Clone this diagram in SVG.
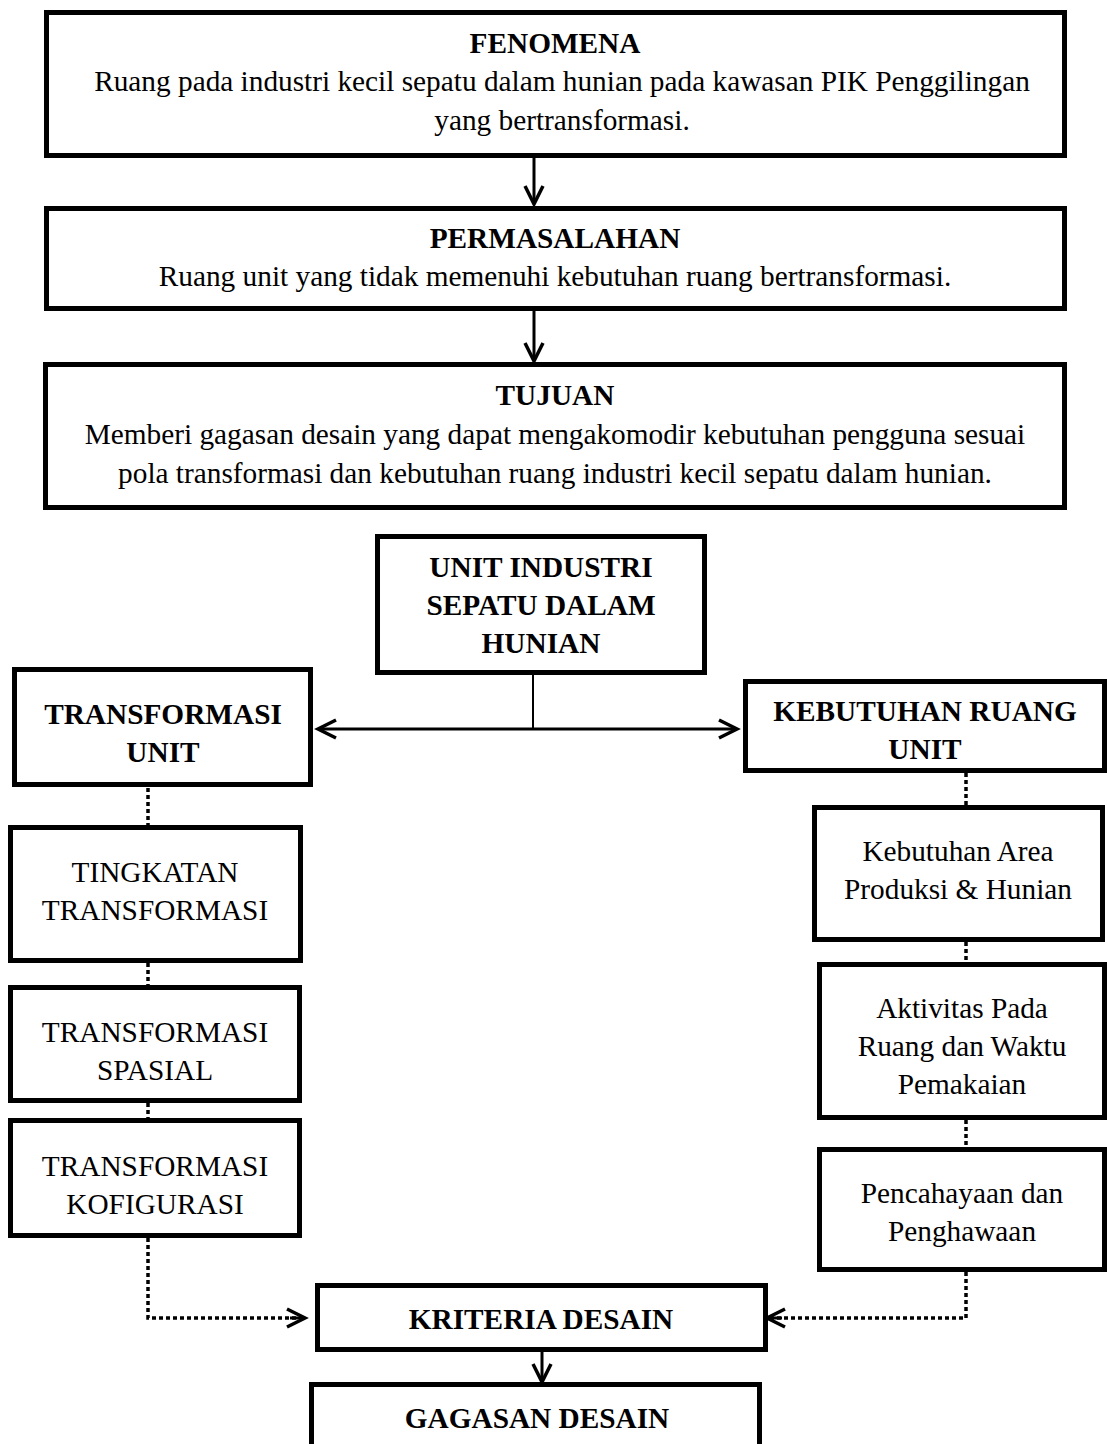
<svg xmlns="http://www.w3.org/2000/svg" width="1107" height="1444" viewBox="0 0 1107 1444">
<style>
.box{fill:#fff;stroke:#000;stroke-width:5}
.t{font-family:"Liberation Serif","Times New Roman",serif;font-size:29.3px;fill:#000;text-anchor:middle}
.b{font-weight:bold}
.ln{fill:none;stroke:#000;stroke-width:3}
.dot{fill:none;stroke:#000;stroke-width:3.5;stroke-dasharray:4 3}
</style>
<defs>
<marker id="ah" markerUnits="userSpaceOnUse" markerWidth="24" markerHeight="24" refX="18" refY="9" orient="auto-start-reverse" overflow="visible">
<path d="M0,0 L18,9 L0,18" fill="none" stroke="#000" stroke-width="3.5"/>
</marker>
</defs>
<rect width="1107" height="1444" fill="#fff"/>
<g id="connectors">
<line class="ln" x1="534" y1="158" x2="534" y2="204" marker-end="url(#ah)"/>
<line class="ln" x1="534" y1="311" x2="534" y2="361" marker-end="url(#ah)"/>
<line x1="533" y1="675" x2="533" y2="729" stroke="#000" stroke-width="2"/>
<line class="ln" x1="318" y1="729" x2="737" y2="729" marker-start="url(#ah)" marker-end="url(#ah)"/>
<line class="dot" x1="148" y1="788" x2="148" y2="825"/>
<line class="dot" x1="148" y1="963" x2="148" y2="985"/>
<line class="dot" x1="148" y1="1103" x2="148" y2="1118"/>
<path class="dot" d="M148,1238 V1318 H303"/>
<line class="ln" x1="290" y1="1318" x2="305" y2="1318" marker-end="url(#ah)"/>
<line class="dot" x1="966" y1="773" x2="966" y2="805"/>
<line class="dot" x1="966" y1="942" x2="966" y2="962"/>
<line class="dot" x1="966" y1="1120" x2="966" y2="1147"/>
<path class="dot" d="M966,1272 V1318 H770"/>
<line class="ln" x1="782" y1="1318" x2="767" y2="1318" marker-end="url(#ah)"/>
<line class="ln" x1="542" y1="1352" x2="542" y2="1382" marker-end="url(#ah)"/>
</g>
<g id="fenomena">
<rect class="box" x="46.5" y="12.5" width="1018" height="143"/>
<text class="t b" x="555" y="53">FENOMENA</text>
<text class="t" x="562" y="91">Ruang pada industri kecil sepatu dalam hunian pada kawasan PIK Penggilingan</text>
<text class="t" x="562" y="130">yang bertransformasi.</text>
</g>
<g id="permasalahan">
<rect class="box" x="46.5" y="208.5" width="1018" height="100"/>
<text class="t b" x="555" y="248">PERMASALAHAN</text>
<text class="t" x="555" y="286">Ruang unit yang tidak memenuhi kebutuhan ruang bertransformasi.</text>
</g>
<g id="tujuan">
<rect class="box" x="45.5" y="364.5" width="1019" height="143"/>
<text class="t b" x="555" y="405">TUJUAN</text>
<text class="t" x="555" y="444">Memberi gagasan desain yang dapat mengakomodir kebutuhan pengguna sesuai</text>
<text class="t" x="555" y="483">pola transformasi dan kebutuhan ruang industri kecil sepatu dalam hunian.</text>
</g>
<g id="unit-industri">
<rect class="box" x="377.5" y="536.5" width="327" height="136"/>
<text class="t b" x="541" y="577">UNIT INDUSTRI</text>
<text class="t b" x="541" y="615">SEPATU DALAM</text>
<text class="t b" x="541" y="653">HUNIAN</text>
</g>
<g id="transformasi-unit">
<rect class="box" x="14.5" y="669.5" width="296" height="115"/>
<text class="t b" x="163" y="724">TRANSFORMASI</text>
<text class="t b" x="163" y="762">UNIT</text>
</g>
<g id="kebutuhan-ruang-unit">
<rect class="box" x="745.5" y="681.5" width="359" height="89"/>
<text class="t b" x="925" y="721">KEBUTUHAN RUANG</text>
<text class="t b" x="925" y="759">UNIT</text>
</g>
<g id="tingkatan">
<rect class="box" x="10.5" y="827.5" width="290" height="133"/>
<text class="t" x="155" y="882">TINGKATAN</text>
<text class="t" x="155" y="920">TRANSFORMASI</text>
</g>
<g id="spasial">
<rect class="box" x="10.5" y="987.5" width="289" height="113"/>
<text class="t" x="155" y="1042">TRANSFORMASI</text>
<text class="t" x="155" y="1080">SPASIAL</text>
</g>
<g id="kofigurasi">
<rect class="box" x="10.5" y="1120.5" width="289" height="115"/>
<text class="t" x="155" y="1176">TRANSFORMASI</text>
<text class="t" x="155" y="1214">KOFIGURASI</text>
</g>
<g id="kebutuhan-area">
<rect class="box" x="814.5" y="807.5" width="288" height="132"/>
<text class="t" x="958" y="861">Kebutuhan Area</text>
<text class="t" x="958" y="899">Produksi &amp; Hunian</text>
</g>
<g id="aktivitas">
<rect class="box" x="819.5" y="964.5" width="285" height="153"/>
<text class="t" x="962" y="1018">Aktivitas Pada</text>
<text class="t" x="962" y="1056">Ruang dan Waktu</text>
<text class="t" x="962" y="1094">Pemakaian</text>
</g>
<g id="pencahayaan">
<rect class="box" x="819.5" y="1149.5" width="285" height="120"/>
<text class="t" x="962" y="1203">Pencahayaan dan</text>
<text class="t" x="962" y="1241">Penghawaan</text>
</g>
<g id="kriteria-desain">
<rect class="box" x="317.5" y="1285.5" width="448" height="64"/>
<text class="t b" x="541" y="1329">KRITERIA DESAIN</text>
</g>
<g id="gagasan-desain">
<rect class="box" x="311.5" y="1384.5" width="448" height="80"/>
<text class="t b" x="537" y="1428">GAGASAN DESAIN</text>
</g>
</svg>
